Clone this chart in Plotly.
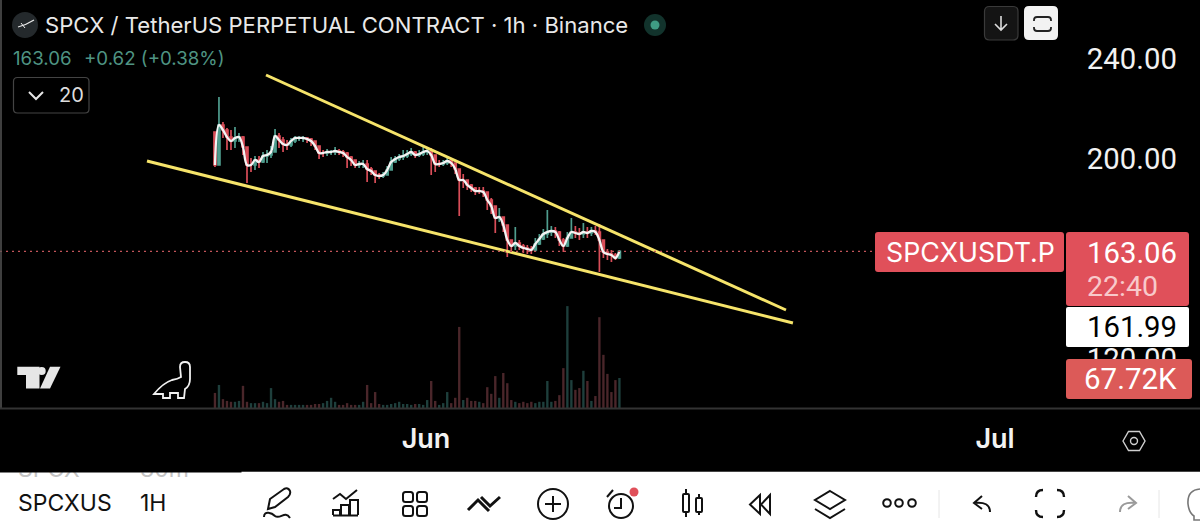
import pandas as pd
import plotly.graph_objects as go

# --- candle data (price) ---
opens = [210.8, 197.6, 213.6, 211.6, 208.8, 207.2, 208.4, 208.8, 204.8, 197.6, 197.6, 199.6, 198.8,
         201.2, 201.6, 202.8, 209.2, 207.6, 206.0, 205.6, 207.2, 208.4, 208.4, 208.4, 208.0, 207.2,
         205.2, 202.4, 202.4, 202.8, 202.8, 203.2, 202.8, 202.4, 200.8, 199.6, 197.6, 198.0, 198.0,
         196.0, 195.2, 193.6, 193.2, 193.6, 195.6, 198.8, 200.0, 200.8, 201.2, 202.0, 202.8, 201.6,
         202.0, 202.8, 203.2, 201.6, 198.0, 198.0, 198.4, 199.2, 198.4, 196.0, 191.6, 191.6, 189.6,
         188.4, 187.2, 187.2, 186.8, 183.6, 181.2, 176.4, 176.8, 173.6, 167.6, 165.2, 166.4, 165.2,
         164.4, 164.0, 163.6, 166.0, 168.0, 170.0, 170.8, 171.2, 170.8, 167.6, 165.2, 168.4, 170.8,
         170.4, 170.0, 170.8, 170.4, 171.2, 170.8, 167.6, 162.8, 162.0, 161.6, 160.4]
highs = [210.4, 224.8, 214.8, 212.4, 211.6, 212.8, 210.4, 209.2, 203.6, 200.4, 201.2, 201.2, 202.8,
         203.6, 205.2, 212.0, 210.4, 208.8, 207.6, 208.4, 209.2, 209.2, 209.2, 208.8, 208.4, 207.2,
         205.2, 203.6, 204.0, 203.6, 204.8, 204.0, 203.6, 202.8, 201.2, 199.6, 199.2, 199.6, 199.6,
         196.8, 195.2, 194.4, 194.8, 197.2, 200.8, 201.2, 202.0, 203.6, 203.6, 204.4, 203.2, 203.6,
         204.8, 204.8, 204.4, 200.4, 199.6, 199.6, 201.2, 200.0, 198.4, 194.8, 194.0, 191.6, 190.0,
         188.8, 188.8, 188.8, 186.8, 184.4, 179.6, 180.4, 176.4, 172.4, 167.6, 172.8, 167.6, 166.0,
         165.6, 165.2, 168.4, 170.0, 172.0, 179.6, 173.2, 172.8, 171.2, 168.4, 170.8, 176.4, 173.2,
         172.4, 174.4, 172.8, 172.8, 173.2, 174.0, 166.0, 164.0, 163.6, 162.4, 163.6]
lows = [196.8, 210.4, 208.4, 203.6, 203.6, 204.4, 206.8, 201.6, 190.4, 194.8, 195.6, 196.4, 198.4,
        198.4, 200.4, 202.8, 204.4, 202.8, 203.6, 204.8, 206.4, 207.2, 206.8, 206.4, 205.2, 203.6,
        200.0, 200.8, 201.2, 201.6, 201.6, 201.6, 200.8, 196.4, 197.2, 196.4, 196.4, 196.4, 190.8,
        193.6, 190.4, 192.0, 192.4, 194.0, 196.8, 198.4, 199.2, 199.6, 200.4, 201.2, 200.4, 200.8,
        201.2, 201.6, 193.6, 194.8, 196.8, 197.2, 197.6, 196.8, 194.0, 177.2, 188.4, 187.6, 186.8,
        185.6, 186.0, 184.8, 179.6, 178.0, 170.4, 174.8, 170.8, 160.8, 162.8, 163.6, 163.6, 162.4,
        162.0, 162.0, 162.8, 165.6, 167.6, 168.4, 169.2, 168.4, 165.2, 162.8, 164.8, 168.4, 168.4,
        167.6, 168.4, 168.4, 169.2, 169.6, 154.8, 160.4, 159.6, 158.8, 159.6, 160.0]
closes = [197.6, 213.6, 211.6, 208.8, 207.2, 208.4, 208.8, 204.8, 197.6, 197.6, 199.6, 198.8, 201.2,
          201.6, 202.8, 209.2, 207.6, 206.0, 205.6, 207.2, 208.4, 208.4, 208.4, 208.0, 207.2, 205.2,
          202.4, 202.4, 202.8, 202.8, 203.2, 202.8, 202.4, 200.8, 199.6, 197.6, 198.0, 198.0, 196.0,
          195.2, 193.6, 193.2, 193.6, 195.6, 198.8, 200.0, 200.8, 201.2, 202.0, 202.8, 201.6, 202.0,
          202.8, 203.2, 201.6, 198.0, 198.0, 198.4, 199.2, 198.4, 196.0, 191.6, 191.6, 189.6, 188.4,
          187.2, 187.2, 186.8, 183.6, 181.2, 176.4, 176.8, 173.6, 167.6, 165.2, 166.4, 165.2, 164.4,
          164.0, 163.6, 166.0, 168.0, 170.0, 170.8, 171.2, 170.8, 167.6, 165.2, 168.4, 170.8, 170.4,
          170.0, 170.8, 170.4, 171.2, 170.8, 167.6, 162.8, 162.0, 161.6, 160.4, 163.06]
volumes = [34, 52, 20, 16, 14, 14, 16, 50, 14, 11, 11, 11, 14, 11, 45, 20, 14, 16, 7, 7, 7, 7, 7, 7,
           7, 9, 9, 11, 16, 23, 14, 7, 7, 11, 7, 7, 7, 14, 52, 11, 36, 9, 7, 7, 9, 11, 14, 9, 9, 7,
           9, 9, 7, 18, 61, 16, 7, 11, 36, 11, 23, 183, 18, 23, 16, 16, 14, 11, 47, 32, 72, 23, 79,
           56, 18, 14, 11, 14, 11, 14, 11, 14, 14, 61, 14, 16, 29, 90, 230, 63, 41, 45, 84, 61, 16,
           27, 205, 120, 77, 36, 63, 67.72]
dates = pd.date_range("2026-05-20 21:00", periods=len(closes), freq="304min")

last_price = 163.06
price_ticks = [120, 200, 240]
price_labels = ["120.00", "200.00", "240.00"]
month_ticks = ["2026-06-01", "2026-07-01"]
month_labels = ["Jun", "Jul"]

# hand drawn wedge
upper_x = ["2026-05-23 13:35", "2026-06-19 23:27"]
upper_y = [233.6, 139.6]
lower_x = ["2026-05-17 07:02", "2026-06-20 08:18"]
lower_y = [199.2, 134.4]

FONT = "Inter"
NUM_FONT = "Roboto"
RED = "#e0505a"
fig = go.Figure()

# === Volume ===
vol_colors = ["#1e3f3c" if c >= o else "#4a262a" for o, c in zip(opens, closes)]
fig.add_trace(go.Bar(x=dates, y=volumes, yaxis="y2", width=3.0 * 3600000,
                     marker=dict(color=vol_colors, line=dict(width=0)), name="Vol"))

# === Candles ===
fig.add_trace(go.Candlestick(
    x=dates, open=opens, high=highs, low=lows, close=closes, name="SPCXUSDT.P",
    whiskerwidth=0,
    increasing=dict(line=dict(color="#4f9d8e", width=1.7), fillcolor="#4f9d8e"),
    decreasing=dict(line=dict(color="#d84d58", width=1.7), fillcolor="#d84d58"),
))

# === MA 20 ===
fig.add_trace(go.Scatter(x=dates, y=closes, mode="lines", name="MA 20",
                         line=dict(color="#f4f4f4", width=2.3, shape="spline")))

# === Wedge ===
fig.add_trace(go.Scatter(x=upper_x, y=upper_y, mode="lines", line=dict(color="#f6e46a", width=3)))
fig.add_trace(go.Scatter(x=lower_x, y=lower_y, mode="lines", line=dict(color="#f6e46a", width=3)))

# pixel canvas for the app chrome (labels, buttons, toolbar)
fig.add_trace(go.Scatter(x=[0], y=[0], xaxis="x3", yaxis="y3", mode="markers",
                         marker=dict(opacity=0), hoverinfo="skip"))

shapes = []
texts = []


def box(x0, y0, x1, y1, fill="rgba(0,0,0,0)", line=None, width=1, r=0):
    path = (f"M{x0 + r},{y0} L{x1 - r},{y0} Q{x1},{y0} {x1},{y0 + r} L{x1},{y1 - r} Q{x1},{y1} {x1 - r},{y1} "
            f"L{x0 + r},{y1} Q{x0},{y1} {x0},{y1 - r} L{x0},{y0 + r} Q{x0},{y0} {x0 + r},{y0} Z")
    stroke(path, line, width, fill)


def stroke(path, color="#111111", width=2, fill="rgba(0,0,0,0)"):
    shapes.append(dict(type="path", path=path, xref="x3", yref="y3", layer="above", fillcolor=fill,
                       line=dict(color=color or "rgba(0,0,0,0)", width=width if color else 0)))


def circle(cx, cy, r, fill="rgba(0,0,0,0)", line=None, width=2):
    shapes.append(dict(type="circle", x0=cx - r, x1=cx + r, y0=cy - r, y1=cy + r, xref="x3", yref="y3",
                       layer="above", fillcolor=fill,
                       line=dict(color=line or "rgba(0,0,0,0)", width=width if line else 0)))


def label(x, y, text, size, color="#ffffff", anchor="left", family=FONT):
    texts.append(dict(x=x, y=y, text=text, xref="x3", yref="y3", showarrow=False, xanchor=anchor,
                      yanchor="middle", xshift=-2 if anchor == "left" else 0,
                      font=dict(family=family, size=size, color=color)))


# last price dotted line
shapes.append(dict(type="line", xref="x3", yref="y", x0=0, x1=875, y0=last_price, y1=last_price,
                   line=dict(color="#c2545a", width=1.4, dash="2px,4px")))

# frame
stroke("M1,0 L1,409", "#555555", 1.5)
stroke("M0,408.5 L1200,408.5", "#333333", 2)

# header
circle(25, 25, 13, fill="#24292c")
stroke("M18,27 Q26,25 34,20", "#e8e8e8", 1.2)
stroke("M21,23 L25,28", "#e8e8e8", 1)
label(45, 25, "SPCX / TetherUS PERPETUAL CONTRACT · 1h · Binance", 22.1, "#e9e9e9")
circle(655, 25, 11, fill="#12332c")
circle(655, 25, 4.5, fill="#3f9c84")
label(13, 58, "163.06", 18.7, "#4f9483")
label(84, 58, "+0.62 (+0.38%)", 18.7, "#4f9483")
box(13.5, 77.5, 89, 113, line="#444444", width=1.2, r=4)
stroke("M29,92 L36,99 L43,92", "#e6e6e6", 2)
label(59, 95, "20", 20, "#dddddd")

# top right buttons
box(984.5, 6.5, 1018, 40, fill="#141414", line="#3a3a3a", width=1.2, r=5)
stroke("M1001,16 L1001,30 M995,24 L1001,30 L1007,24", "#dddddd", 1.6)
box(1024, 6, 1058, 40, fill="#f2f2f2", r=5)
stroke("M1034,21 L1034,20 Q1034,17 1037,17 L1048,17 Q1051,17 1051,20 L1051,21 "
       "M1034,27 L1034,28 Q1034,31 1037,31 L1048,31 Q1051,31 1051,28 L1051,27", "#222222", 1.8)

# price labels
box(875, 232, 1064, 272, fill=RED, r=3)
label(970, 252, "SPCXUSDT.P", 26.8, "#ffffff", "center")
box(1066, 232, 1189, 306, fill=RED, r=3)
label(1087, 253, "163.06", 29.3, "#ffffff", family=NUM_FONT)
label(1087, 286, "22:40", 28.5, "#f8c9cb", family=NUM_FONT)
box(1066, 307, 1189, 347, fill="#ffffff", r=2)
label(1087, 327, "161.99", 29.3, "#000000", family=NUM_FONT)
box(1066, 359, 1192, 399, fill="#dc5a58", r=3)
label(1084, 379, "67.72K", 29.5, "#ffffff", family=NUM_FONT)

# TradingView logo and dino
stroke("M17.3,366.7 L39.5,366.7 L39.5,388.5 L26,388.5 L26,375 L17.3,375 Z", None, 0, "#e6e6e6")
circle(41.7, 371, 4, fill="#e6e6e6")
stroke("M50,366.7 L60.5,366.7 L50,388.5 L40,388.5 Z", None, 0, "#e6e6e6")
stroke("M154,394 Q163,383 172,380 Q178,379 181,377 L180,367 Q180,362 185,362 Q190,362 190,367 L190,379 "
       "Q190,386 185,389 L184,398 L178,398 L178,393 L170,393 L170,398 L163,398 L163,394 Z", "#f0f0f0", 1.8)

# settings hexagon
stroke("M1123,441 L1128.5,431.5 L1139.5,431.5 L1145,441 L1139.5,450.5 L1128.5,450.5 Z", "#cfcfcf", 1.4)
circle(1134, 441, 3.5, line="#cfcfcf", width=1.4)

# toolbar
box(0, 472, 1200, 529, fill="#ffffff", line=None)
stroke("M0,471.5 L1200,471.5", "#444444", 1.2)
label(18, 469, "SPCX", 23, "#c4c4c4")
label(140, 469, "30m", 23, "#c4c4c4")
texts.append(dict(x=120, y=464.5, xref="x3", yref="y3", showarrow=False, text=" ", bgcolor="#000000",
                  width=240, height=13, font=dict(size=10)))
label(18, 503, "SPCXUS", 23, "#111111")
label(140, 503, "1H", 23, "#111111")
label(18, 534, "TTDUS", 21, "#b8b8b8")
label(140, 534, "5H", 21, "#b8b8b8")

ink = "#111111"
# pencil
stroke("M268,509 L270,499 L284,489 Q288,487 290,491 Q291,494 288,497 L275,507 Z", ink, 2)
stroke("M264,517 C264,510 272,513 275,516 C280,520 285,510 290,518", ink, 2)
# indicators
stroke("M333,515 L333,510 L340,510 L340,515 M341,515 L341,505 L349,505 L349,515 "
       "M350,515 L350,500 L358,500 L358,515 M333,515.5 L358,515.5", ink, 2)
stroke("M333,499 L340,494 L346,499 L357,490", ink, 2)
# grid
for gx in (403, 417):
    for gy in (492, 506):
        box(gx, gy, gx + 10, gy + 10, line=ink, width=2, r=2.5)
# arrows
stroke("M468,510 L478,500 L489,511", ink, 3)
stroke("M481,497 L490,506 L500,497", ink, 3)
# plus
circle(553, 504, 15, line=ink, width=2)
stroke("M553,496 L553,512 M545,504 L561,504", ink, 2)
# alarm
circle(621, 506, 12, line=ink, width=2)
stroke("M621,498 L621,508 L614,508", ink, 2)
stroke("M607,497 L613,490", ink, 2)
circle(634, 492, 4.5, fill=RED)
# candles
box(683, 494, 689, 512, line=ink, width=2, r=1)
stroke("M686,489 L686,494 M686,512 L686,517", ink, 2)
box(696, 498, 702, 512, line=ink, width=2, r=1)
stroke("M699,494 L699,498 M699,512 L699,515", ink, 2)
# rewind
stroke("M760,495 L750,504.5 L760,514 Z M770,495 L761,504.5 L770,514 Z", ink, 2)
# layers
stroke("M830,491 L845,500 L830,509 L815,500 Z", ink, 2)
stroke("M815,509 L830,518 L845,509", ink, 2)
# dots
for dx in (887, 899, 912):
    circle(dx, 503, 3.8, line=ink, width=2)
stroke("M939,490 L939,518 M1159,490 L1159,518", "#e6e6e6", 1)
# undo / fullscreen / redo
stroke("M982,496 L974,503 L982,509 M974,503 Q990,501 990,512", ink, 2)
stroke("M1036,497 Q1036,490 1043,490 M1057,490 Q1064,490 1064,497 M1036,510 Q1036,517 1043,517 "
       "M1057,517 Q1064,517 1064,510", ink, 2.4)
stroke("M1128,496 L1136,503 L1128,509 M1136,503 Q1120,501 1120,512", "#9a9a9a", 2)
stroke("M1200,489 Q1187,490 1188,504 Q1189,513 1194,516 L1194,520 L1200,520", "#777777", 1.6)

# === Оформление ===
plot_width = 1066 / 1200
fig.update_layout(
    width=1200,
    height=529,
    margin=dict(l=0, r=0, t=0, b=0),
    paper_bgcolor="#000000",
    plot_bgcolor="rgba(0,0,0,0)",
    showlegend=False,
    hovermode=False,
    shapes=shapes,
    annotations=texts,
    xaxis=dict(
        domain=[0, plot_width], range=["2026-05-09 13:02", "2026-07-04 17:45"], type="date",
        anchor="y", rangeslider_visible=False, showgrid=False, zeroline=False, showline=False,
        tickmode="array", tickvals=month_ticks, ticktext=month_labels, ticks="outside", ticklen=7,
        tickcolor="#000000", tickfont=dict(family=FONT, size=27, color="#f2f2f2", weight=600),
    ),
    yaxis=dict(
        domain=[1 - 408 / 529, 1], range=[100.4, 263.6], anchor="x", side="right",
        showgrid=False, zeroline=False, showline=False,
        tickmode="array", tickvals=price_ticks, ticktext=price_labels, ticks="outside", ticklen=14,
        tickcolor="#000000", tickfont=dict(family=NUM_FONT, size=29.3, color="#f2f2f2"),
    ),
    yaxis2=dict(overlaying="y", range=[0, 921], visible=False),
    xaxis3=dict(domain=[0, 1], range=[0, 1200], visible=False, anchor="y3"),
    yaxis3=dict(domain=[0, 1], range=[529, 0], visible=False, anchor="x3"),
)

fig.write_html("out.html", config=dict(displayModeBar=False), post_script="document.body.style.margin='0';")
